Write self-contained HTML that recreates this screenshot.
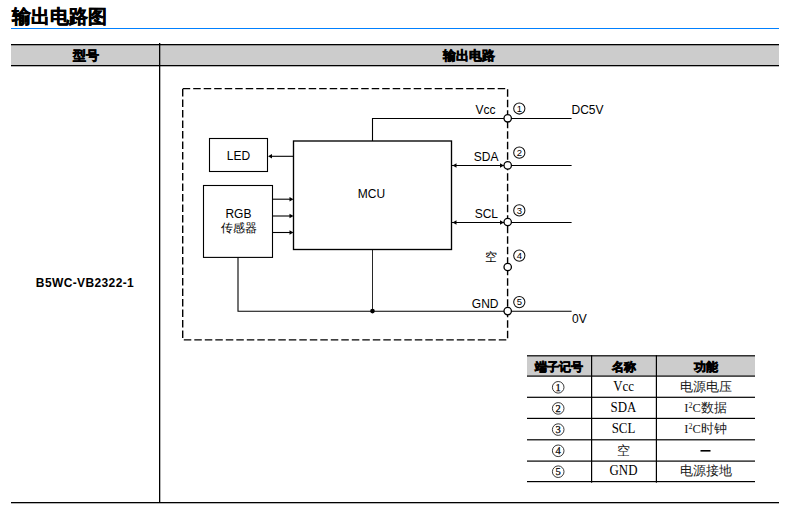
<!DOCTYPE html>
<html><head><meta charset="utf-8">
<style>
html,body{margin:0;padding:0;background:#fff;width:796px;height:517px;overflow:hidden}
svg{display:block;position:absolute;left:0;top:0}
text{font-family:"Liberation Sans",sans-serif}
.b,.b text{font-weight:bold}
.r text{font-family:"Liberation Serif",serif}
.k,.k text{stroke:#000;stroke-width:0.6}
</style></head><body>
<svg width="796" height="517" viewBox="0 0 796 517">
<!-- title -->
<text x="12" y="22.8" class="b k" font-size="19" style="stroke-width:0.45">输出电路图</text>
<rect x="11" y="28" width="768" height="1" fill="#0080ff"/>
<!-- main table -->
<rect x="11" y="44" width="768" height="22" fill="#cccccc"/>
<rect x="11" y="44" width="768" height="1.3" fill="#000"/>
<rect x="11" y="65" width="768" height="1.3" fill="#000"/>
<rect x="159" y="43" width="1.3" height="460" fill="#000"/>
<rect x="11" y="502" width="768" height="1.3" fill="#000"/>
<text x="85.5" y="59.5" class="b k" font-size="12.5" text-anchor="middle">型号</text>
<text x="469" y="59.5" class="b k" font-size="12.5" text-anchor="middle">输出电路</text>
<text x="85" y="287" class="b" font-size="12" letter-spacing="0.38" text-anchor="middle">B5WC-VB2322-1</text>

<!-- diagram -->
<g fill="none" stroke="#000" stroke-width="1.1">
<rect x="182.7" y="88.6" width="324.9" height="251.3" stroke-width="1.4" stroke-dasharray="7.5 3"/>
<rect x="209.5" y="138.5" width="58" height="33"/>
<rect x="293.5" y="141" width="158" height="108.5" stroke-width="1.35"/>
<rect x="203.5" y="185.5" width="69" height="71.9"/>
<polyline points="372.5,141 372.5,118.5 571.6,118.5"/>
<line x1="451.5" y1="165.5" x2="571.6" y2="165.5"/>
<line x1="451.5" y1="222.5" x2="571.6" y2="222.5"/>
<line x1="293.5" y1="156.3" x2="270" y2="156.3"/>
<line x1="272.5" y1="199.2" x2="291" y2="199.2"/>
<line x1="272.5" y1="216" x2="291" y2="216"/>
<line x1="272.5" y1="232.5" x2="291" y2="232.5"/>
<polyline points="238,257.4 238,311.3 571.6,311.3"/>
<line x1="372.5" y1="249.5" x2="372.5" y2="311.3" stroke-width="0.85"/>
</g>
<g fill="#000">
<circle cx="372.5" cy="311.1" r="2.3"/>
<!-- arrowheads -->
<path d="M268,156.3 l4,-2.2 v4.4z"/>
<path d="M293.5,199.2 l-4,-2.2 v4.4z"/>
<path d="M293.5,216 l-4,-2.2 v4.4z"/>
<path d="M293.5,232.5 l-4,-2.2 v4.4z"/>
<path d="M452.5,165.5 l4,-2.2 v4.4z"/>
<path d="M504,165.5 l-4,-2.2 v4.4z"/>
<path d="M452.5,222.5 l4,-2.2 v4.4z"/>
<path d="M504,222.5 l-4,-2.2 v4.4z"/>
</g>
<g fill="#fff" stroke="#000" stroke-width="1.3">
<circle cx="507.7" cy="118.3" r="3.7"/>
<circle cx="507.7" cy="165.4" r="3.7"/>
<circle cx="507.7" cy="222" r="3.7"/>
<circle cx="507.7" cy="267" r="3.7"/>
<circle cx="507.7" cy="311.1" r="3.7"/>
</g>
<g fill="none" stroke="#111" stroke-width="1.05">
<circle cx="519.3" cy="108.5" r="5.6"/>
<circle cx="519.3" cy="152.7" r="5.6"/>
<circle cx="519.3" cy="210.4" r="5.6"/>
<circle cx="519.3" cy="255.6" r="5.6"/>
<circle cx="519.3" cy="302.1" r="5.6"/>
</g>
<g font-size="9.5" text-anchor="middle">
<text x="519.3" y="111.8">1</text>
<text x="519.3" y="156">2</text>
<text x="519.3" y="213.7">3</text>
<text x="519.3" y="258.9">4</text>
<text x="519.3" y="305.4">5</text>
</g>
<g font-size="12">
<text x="495.5" y="113.7" text-anchor="end">Vcc</text>
<text x="571.5" y="113.7">DC5V</text>
<text x="498.5" y="160.8" text-anchor="end">SDA</text>
<text x="498" y="217.6" text-anchor="end">SCL</text>
<text x="497" y="261" text-anchor="end">空</text>
<text x="498.5" y="307.8" text-anchor="end">GND</text>
<text x="572" y="322.7">0V</text>
<text x="238.5" y="160" text-anchor="middle">LED</text>
<text x="371.4" y="197.9" text-anchor="middle">MCU</text>
<text x="238.4" y="217.8" text-anchor="middle">RGB</text>
<text x="239" y="232" text-anchor="middle">传感器</text>
</g>

<!-- pin table -->
<rect x="527" y="356" width="228" height="20" fill="#cccccc"/>
<g fill="#000">
<rect x="527" y="355.2" width="228" height="1.2"/>
<rect x="527" y="375.5" width="228" height="1.2"/>
<rect x="527" y="396.7" width="228" height="1.2"/>
<rect x="527" y="417.8" width="228" height="1.2"/>
<rect x="527" y="439.2" width="228" height="1.2"/>
<rect x="527" y="460.5" width="228" height="1.2"/>
<rect x="527" y="481" width="228" height="1.2"/>
<rect x="591" y="355.2" width="1.2" height="127.5"/>
<rect x="655.8" y="355.2" width="1.2" height="127.5"/>
</g>
<g class="b k" font-size="12.2" text-anchor="middle" style="stroke-width:0.5">
<text x="558.6" y="371">端子记号</text>
<text x="623.6" y="371">名称</text>
<text x="705.6" y="371">功能</text>
</g>
<g fill="none" stroke="#222" stroke-width="0.9">
<circle cx="558.2" cy="387.3" r="5.8"/>
<circle cx="558.2" cy="408.4" r="5.8"/>
<circle cx="558.2" cy="429.6" r="5.8"/>
<circle cx="558.2" cy="450.8" r="5.8"/>
<circle cx="558.2" cy="471.7" r="5.8"/>
</g>
<g class="r" font-size="10.5" text-anchor="middle" stroke="#000" stroke-width="0.25">
<text x="558.2" y="390.9">1</text>
<text x="558.2" y="412">2</text>
<text x="558.2" y="433.2">3</text>
<text x="558.2" y="454.4">4</text>
<text x="558.2" y="475.3">5</text>
</g>
<rect x="700.5" y="450" width="10" height="1.6" fill="#000"/>
<g class="r" font-size="13" text-anchor="middle">
<g font-size="14" transform="translate(623.5 0) scale(0.92 1) translate(-623.5 0)">
<text x="623.5" y="390.8">Vcc</text>
<text x="623.5" y="412">SDA</text>
<text x="623.5" y="433.2">SCL</text>
<text x="623.5" y="475.2">GND</text>
</g>
<g font-size="12.5" fill="#1a1a1a">
<text x="623.5" y="454.6">空</text>
<text x="705.5" y="390.6">电源电压</text>
<text x="705.5" y="411.8">I<tspan font-size="8" dy="-4">2</tspan><tspan dy="4">C数据</tspan></text>
<text x="705.5" y="433">I<tspan font-size="8" dy="-4">2</tspan><tspan dy="4">C时钟</tspan></text>
<text x="705.5" y="475">电源接地</text>
</g>
</g>
</svg>
</body></html>
